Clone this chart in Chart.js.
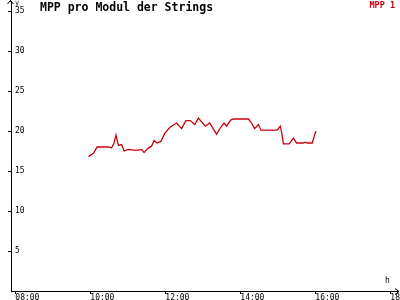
<!DOCTYPE html>
<html lang="de">
  <head>
    <meta charset="UTF-8" />
    <title>MPP pro Modul der Strings</title>
    <style>
      body {
        margin: 0;
        background: #ffffff;
      }
      #wrap {
        width: 400px;
        height: 300px;
      }
    </style>
  </head>
  <body>
    <div id="wrap">
      <canvas id="myChart" width="400" height="300"></canvas>
    </div>

    <script src="https://cdn.jsdelivr.net/npm/chart.js"></script>

    <script>
      // Messzeiten und Werte (MPP 1)
      const zeiten = [
        "09:57", "10:05", "10:11", "10:29", "10:34", "10:38", "10:41", "10:45",
        "10:50", "10:54", "11:01", "11:09", "11:17", "11:22", "11:26", "11:33",
        "11:38", "11:42", "11:47", "11:53", "11:59", "12:08", "12:18", "12:26",
        "12:33", "12:40", "12:47", "12:53", "13:04", "13:11", "13:22", "13:29",
        "13:34", "13:38", "13:45", "13:49", "14:13", "14:18", "14:23", "14:29",
        "14:33", "14:59", "15:04", "15:06", "15:09", "15:18", "15:25", "15:30",
        "15:41", "15:44", "15:47", "15:55", "15:58", "16:01"
      ];
      const mpp1 = [
        16.8, 17.2, 18.0, 18.0, 17.9, 18.5, 19.5, 18.2,
        18.3, 17.5, 17.7, 17.6, 17.6, 17.7, 17.3, 17.9,
        18.1, 18.8, 18.5, 18.7, 19.7, 20.5, 21.0, 20.3,
        21.3, 21.3, 20.8, 21.6, 20.6, 21.0, 19.6, 20.5,
        21.0, 20.6, 21.4, 21.5, 21.5, 21.0, 20.3, 20.8,
        20.1, 20.1, 20.6, 19.9, 18.4, 18.4, 19.1, 18.5,
        18.5, 18.6, 18.5, 18.5, 19.3, 20.0
      ];
      const xTicks = [8, 10, 12, 14, 16, 18];
      const yTicks = [5, 10, 15, 20, 25, 30, 35];

      const seriesName = "MPP 1";
      const titel = "MPP pro Modul der Strings";
      const farbe = "#c8000c";
      const mono = "'DejaVu Sans Mono', monospace";

      function zuStunden(t) {
        const [h, m] = t.split(":").map(Number);
        return h + m / 60;
      }

      const punkte = zeiten.map((t, i) => ({ x: zuStunden(t), y: mpp1[i] }));

      // Pfeile, Achsenbuchstaben, Titel und Legende
      const dekoration = {
        id: "dekoration",
        afterDraw(chart) {
          const { ctx, chartArea } = chart;
          const ax = chartArea.left - 0.5;
          const ay = chartArea.bottom + 0.5;
          ctx.save();
          ctx.strokeStyle = "#000";
          ctx.lineWidth = 1;
          ctx.beginPath();
          ctx.moveTo(ax, 0);
          ctx.lineTo(ax, chartArea.top);
          ctx.moveTo(ax - 3, 4);
          ctx.lineTo(ax, 0.5);
          ctx.lineTo(ax + 3, 4);
          ctx.moveTo(chartArea.right, ay);
          ctx.lineTo(399, ay);
          ctx.moveTo(395, ay - 3);
          ctx.lineTo(399, ay);
          ctx.lineTo(395, ay + 3);
          ctx.stroke();

          ctx.fillStyle = "#000";
          ctx.textBaseline = "top";
          ctx.textAlign = "left";
          ctx.font = "7px " + mono;
          ctx.fillText("y", 15, 0);
          ctx.font = "8px " + mono;
          ctx.fillText("h", 385, 277);

          ctx.font = "bold 11.5px " + mono;
          ctx.fillText(titel, 40, 2);

          ctx.fillStyle = farbe;
          ctx.font = "bold 8.5px " + mono;
          ctx.textAlign = "right";
          ctx.fillText(chart.data.datasets[0].label, 395, 2);
          ctx.restore();
        },
      };

      const ctx = document.getElementById("myChart").getContext("2d");
      const myChart = new Chart(ctx, {
        type: "line",
        data: {
          datasets: [
            {
              label: seriesName,
              data: punkte,
              borderColor: farbe,
              borderWidth: 1.3,
              pointRadius: 0,
              tension: 0,
              fill: false,
            },
          ],
        },
        options: {
          responsive: false,
          devicePixelRatio: 1,
          animation: false,
          layout: { padding: { left: 0, top: 2, right: 2, bottom: 0 } },
          plugins: {
            legend: { display: false },
            title: { display: false },
            tooltip: { enabled: false },
          },
          scales: {
            x: {
              type: "linear",
              position: "bottom",
              min: 7.885,
              max: 18.205,
              afterFit: (scale) => {
                scale.height = 9;
                scale.paddingLeft = 0;
                scale.paddingRight = 0;
              },
              afterBuildTicks: (scale) => {
                scale.ticks = xTicks.map((v) => ({ value: v }));
              },
              grid: {
                drawOnChartArea: false,
                drawTicks: true,
                tickLength: 3,
                color: "#000",
              },
              border: { display: true, color: "#000", width: 1 },
              ticks: {
                align: "start",
                padding: -1,
                color: "#000",
                font: { family: mono, size: 8 },
                maxRotation: 0,
                autoSkip: false,
                callback: (v) => String(v).padStart(2, "0") + ":00",
              },
            },
            y: {
              type: "linear",
              position: "left",
              min: 0,
              max: 36.125,
              afterFit: (scale) => {
                scale.width = 11;
                scale.paddingTop = 0;
                scale.paddingBottom = 0;
              },
              afterBuildTicks: (scale) => {
                scale.ticks = yTicks.map((v) => ({ value: v }));
              },
              grid: {
                drawOnChartArea: false,
                drawTicks: true,
                tickLength: 3,
                color: "#000",
              },
              border: { display: true, color: "#000", width: 1 },
              ticks: {
                mirror: true,
                padding: 4,
                color: "#000",
                font: { family: mono, size: 8 },
                autoSkip: false,
              },
            },
          },
        },
        plugins: [dekoration],
      });
    </script>
  </body>
</html>
